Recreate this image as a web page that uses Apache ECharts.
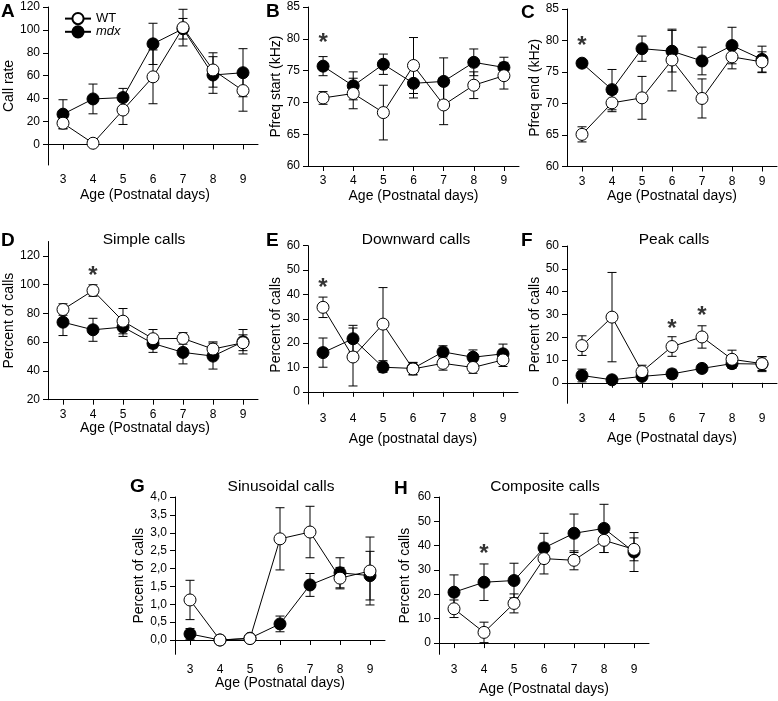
<!DOCTYPE html>
<html>
<head>
<meta charset="utf-8">
<script src="https://cdn.jsdelivr.net/npm/echarts@6/dist/echarts.min.js"></script>
<style>html,body{margin:0;padding:0;background:#fff;}#c{width:778px;height:701px;}</style>
</head>
<body>
<div id="c"></div>
<script>
const days = ['3','4','5','6','7','8','9'];

// A: Call rate
const callRateWT = [18.5, 1, 30, 59, 102, 65, 47];
const callRateWTErr = [5, 0.5, 12.6, 23.5, 16, 15, 18];
const callRateMdx = [26.4, 39.7, 40.9, 87.8, 101, 60.6, 62.6];
const callRateMdxErr = [12.6, 13, 8, 18, 9, 16, 21];
// B: Pfreq start
const pStartWT = [70.7, 71.4, 68.4, 75.8, 69.6, 72.7, 74.2];
const pStartWTErr = [1, 2.4, 4.3, 4.4, 3.1, 2.1, 2.1];
const pStartMdx = [75.7, 72.6, 76.0, 73.0, 73.3, 76.3, 75.5];
const pStartMdxErr = [1.5, 2.2, 1.6, 2.3, 3.7, 2.1, 1.6];
// C: Pfreq end
const pEndWT = [65.1, 70.1, 70.9, 76.9, 70.8, 77.4, 76.6];
const pEndWTErr = [1.2, 1.4, 3.4, 4.9, 3.1, 1.9, 1.6];
const pEndMdx = [76.4, 72.2, 78.7, 78.3, 76.75, 79.2, 77.0];
const pEndMdxErr = [0.4, 3.2, 2.0, 3.3, 2.2, 2.9, 2.1];
// D: Simple calls
const simpleWT = [82.7, 95.9, 74.6, 62.4, 62.6, 55.2, 59.6];
const simpleWTErr = [4, 4, 8.8, 6.4, 4, 5, 5.5];
const simpleMdx = [73.9, 68.6, 70.5, 59.1, 52.9, 50.3, 60.3];
const simpleMdxErr = [9.3, 8, 6.5, 6.2, 8, 9, 8.5];
// E: Downward calls
const downWT = [34.7, 14.3, 27.8, 9.4, 11.7, 10.0, 13.1];
const downWTErr = [4.2, 11.9, 15, 2.5, 2.8, 2.4, 2.7];
const downMdx = [16.1, 21.8, 10.1, 9.6, 16.4, 14.2, 15.6];
const downMdxErr = [6, 5.5, 2.1, 2.5, 2.5, 3, 4];
// F: Peak calls
const peakWT = [16.3, 28.8, 4.9, 15.9, 20.1, 10.3, 8.4];
const peakWTErr = [4.3, 19.6, 2.8, 4.3, 4.9, 4, 3];
const peakMdx = [3.2, 1.3, 2.8, 3.9, 6.3, 8.4, 8.2];
const peakMdxErr = [2.8, 0.5, 1, 2, 1.5, 1.5, 3.3];
// G: Sinusoidal calls
const sinWT = [1.12, 0, 0.04, 2.83, 3.02, 1.73, 1.93];
const sinWTErr = [0.55, 0, 0.03, 0.87, 0.72, 0.3, 0.95];
const sinMdx = [0.17, 0, 0.05, 0.45, 1.54, 1.88, 1.8];
const sinMdxErr = [0.15, 0, 0.03, 0.22, 0.32, 0.42, 0.68];
// H: Composite calls
const compWT = [14.1, 4.4, 16.3, 34.7, 34.0, 42.2, 38.5];
const compWTErr = [3.6, 4.2, 3.9, 6.3, 3.9, 5, 4.7];
const compMdx = [20.9, 25.0, 25.7, 39.1, 45.1, 47.1, 37.4];
const compMdxErr = [7.1, 7.5, 7.1, 6, 7.9, 9.9, 8];

// Tick values
const ticksA = [0, 20, 40, 60, 80, 100, 120];
const ticksBC = [60, 65, 70, 75, 80, 85];
const ticksD = [20, 40, 60, 80, 100, 120];
const ticksEF = [0, 10, 20, 30, 40, 50, 60];
const ticksG = [0, 0.5, 1, 1.5, 2, 2.5, 3, 3.5, 4];
const ticksH = [0, 10, 20, 30, 40, 50, 60];

// Significance stars [panel, day, value]
const stars = [[1, '3', 80.1], [2, '3', 79.8], [3, '4', 108.9], [4, '3', 44.7], [5, '6', 25.8], [5, '7', 31.5], [7, '4', 38.6]];

const FONT = '"Liberation Sans", Arial, sans-serif';

const panels = [
  {grid:{left:48, top:7, width:210, height:158}, min:-18, max:120, ticks:ticksA, yName:'Call rate', yGap:31, xName:'Age (Postnatal days)', xGap:23, xPad:16, wt:callRateWT, wtE:callRateWTErr, md:callRateMdx, mdE:callRateMdxErr},
  {grid:{left:308, top:7, width:211, height:159}, min:60, max:85, ticks:ticksBC, yName:'Pfreq start (kHz)', yGap:21, xName:'Age (Postnatal days)', xGap:23, xPad:0, wt:pStartWT, wtE:pStartWTErr, md:pStartMdx, mdE:pStartMdxErr},
  {grid:{left:567, top:9, width:210, height:157.5}, min:60, max:85, ticks:ticksBC, yName:'Pfreq end (kHz)', yGap:23, xName:'Age (Postnatal days)', xGap:23, xPad:0, wt:pEndWT, wtE:pEndWTErr, md:pEndMdx, mdE:pEndMdxErr},
  {grid:{left:48, top:241.5, width:210, height:158.2}, min:20, max:130, ticks:ticksD, yName:'Percent of calls', yGap:28, xName:'Age (Postnatal days)', xGap:20, xPad:16, wt:simpleWT, wtE:simpleWTErr, md:simpleMdx, mdE:simpleMdxErr},
  {grid:{left:308, top:245.7, width:210, height:158.3}, min:-5, max:60, ticks:ticksEF, yName:'Percent of calls', yGap:23, xName:'Age (postnatal days)', xGap:28, xPad:0, wt:downWT, wtE:downWTErr, md:downMdx, mdE:downMdxErr},
  {grid:{left:567, top:246, width:210, height:157.3}, min:-9, max:60, ticks:ticksEF, yName:'Percent of calls', yGap:22, xName:'Age (Postnatal days)', xGap:28, xPad:0, wt:peakWT, wtE:peakWTErr, md:peakMdx, mdE:peakMdxErr},
  {grid:{left:175, top:497, width:210, height:157.3}, min:-0.4, max:4, ticks:ticksG, yName:'Percent of calls', yGap:26, xName:'Age (Postnatal days)', xGap:17, xPad:0, wt:sinWT, wtE:sinWTErr, md:sinMdx, mdE:sinMdxErr, dec:true},
  {grid:{left:439, top:497, width:210, height:157.3}, min:-4.6, max:60, ticks:ticksH, yName:'Percent of calls', yGap:27, xName:'Age (Postnatal days)', xGap:28, xPad:0, wt:compWT, wtE:compWTErr, md:compMdx, mdE:compMdxErr}
];

const letters = [
  ['A', 1, 12], ['B', 266, 12], ['C', 521, 13], ['D', 1, 241], ['E', 266, 241], ['F', 521, 241], ['G', 130, 487], ['H', 394, 489]
];
const titles = [
  ['Simple calls', 144, 240], ['Downward calls', 416, 240], ['Peak calls', 674, 240], ['Sinusoidal calls', 281, 487], ['Composite calls', 545, 487]
];

const axisLine = {show:true, lineStyle:{color:'#000', width:1}};
const grids = [], xAxes = [], yAxes = [], series = [];

function errSeries(gi, vals, errs, z) {
  return {
    type:'custom', xAxisIndex:gi, yAxisIndex:gi, z:z, silent:true, clip:false,
    data: days.map((d, i) => [i, vals[i] - errs[i], vals[i] + errs[i]]),
    encode: {x:0, y:[1,2]},
    renderItem(params, api) {
      const x = api.value(0);
      const lo = api.coord([x, api.value(1)]);
      const hi = api.coord([x, api.value(2)]);
      const w = 4.5;
      const st = {stroke:'#000', lineWidth:1, fill:null};
      return {type:'group', children:[
        {type:'line', shape:{x1:lo[0], y1:lo[1], x2:hi[0], y2:hi[1]}, style:st},
        {type:'line', shape:{x1:lo[0]-w, y1:lo[1], x2:lo[0]+w, y2:lo[1]}, style:st},
        {type:'line', shape:{x1:hi[0]-w, y1:hi[1], x2:hi[0]+w, y2:hi[1]}, style:st}
      ]};
    }
  };
}

function lineSeries(gi, name, vals, fill, z) {
  return {
    type:'line', name:name, xAxisIndex:gi, yAxisIndex:gi, z:z,
    data: vals, symbol:'circle', symbolSize:12, showAllSymbol:true,
    itemStyle:{color:fill, borderColor:'#000', borderWidth:1},
    lineStyle:{color:'#000', width:1},
    emphasis:{disabled:true}, silent:true
  };
}

panels.forEach((p, gi) => {
  grids.push(Object.assign({containLabel:false}, p.grid));
  xAxes.push({
    type:'category', gridIndex:gi, data:days, boundaryGap:true,
    axisLine:axisLine,
    axisTick:{show:true, alignWithLabel:true, length:5, lineStyle:{color:'#000'}},
    axisLabel:{color:'#000', fontSize:12, fontFamily:FONT, margin:9},
    splitLine:{show:false},
    name:p.xName, nameLocation:'middle', nameGap:p.xGap,
    nameTextStyle:{color:'#000', fontSize:14, fontFamily:FONT, padding:[0, p.xPad, 0, 0]}
  });
  yAxes.push({
    type:'value', gridIndex:gi, min:p.min, max:p.max,
    axisLine:axisLine,
    axisTick:{show:true, length:5, lineStyle:{color:'#000'}, customValues:p.ticks},
    axisLabel:{color:'#000', fontSize:12, fontFamily:FONT, margin:8, customValues:p.ticks,
      formatter: v => p.dec ? v.toFixed(1).replace('.', ',') : String(v)},
    splitLine:{show:false},
    name:p.yName, nameLocation:'middle', nameGap:p.yGap,
    nameTextStyle:{color:'#000', fontSize:14, fontFamily:FONT}
  });
  series.push(errSeries(gi, p.md, p.mdE, 1));
  series.push(errSeries(gi, p.wt, p.wtE, 1));
  series.push(lineSeries(gi, 'mdx', p.md, '#000', 2));
  series.push(lineSeries(gi, 'WT', p.wt, '#fff', 3));
});

// stars
panels.forEach((p, gi) => {
  const d = stars.filter(s => s[0] === gi).map(s => [s[1], s[2]]);
  if (!d.length) return;
  series.push({
    type:'scatter', xAxisIndex:gi, yAxisIndex:gi, z:5, silent:true,
    data:d, symbolSize:1, itemStyle:{color:'rgba(0,0,0,0)'},
    label:{show:true, formatter:'*', position:'inside', color:'#000', fontSize:24, fontWeight:'bold', fontFamily:FONT, offset:[0, 5]}
  });
});

const graphics = [];
letters.forEach(l => graphics.push({type:'text', x:l[1], y:l[2], style:{text:l[0], font:'bold 19px ' + FONT, fill:'#000', textAlign:'left', textVerticalAlign:'middle'}}));
titles.forEach(t => graphics.push({type:'text', x:t[1], y:t[2], style:{text:t[0], font:'15.5px ' + FONT, fill:'#000', textAlign:'center', textVerticalAlign:'middle'}}));

const chart = echarts.init(document.getElementById('c'), null, {renderer:'canvas'});
chart.setOption({
  animation:false,
  backgroundColor:'#fff',
  textStyle:{fontFamily:FONT},
  legend:{
    data:['WT','mdx'], left:59, top:7, orient:'vertical', itemWidth:26, itemHeight:14, itemGap:0,
    selectedMode:false,
    textStyle:{color:'#000', fontSize:13, fontFamily:FONT, rich:{i:{fontStyle:'italic', fontSize:13, fontFamily:FONT, color:'#000'}}},
    formatter: n => n === 'mdx' ? '{i|mdx}' : n
  },
  grid:grids, xAxis:xAxes, yAxis:yAxes, series:series, graphic:graphics
});
</script>
</body>
</html>
